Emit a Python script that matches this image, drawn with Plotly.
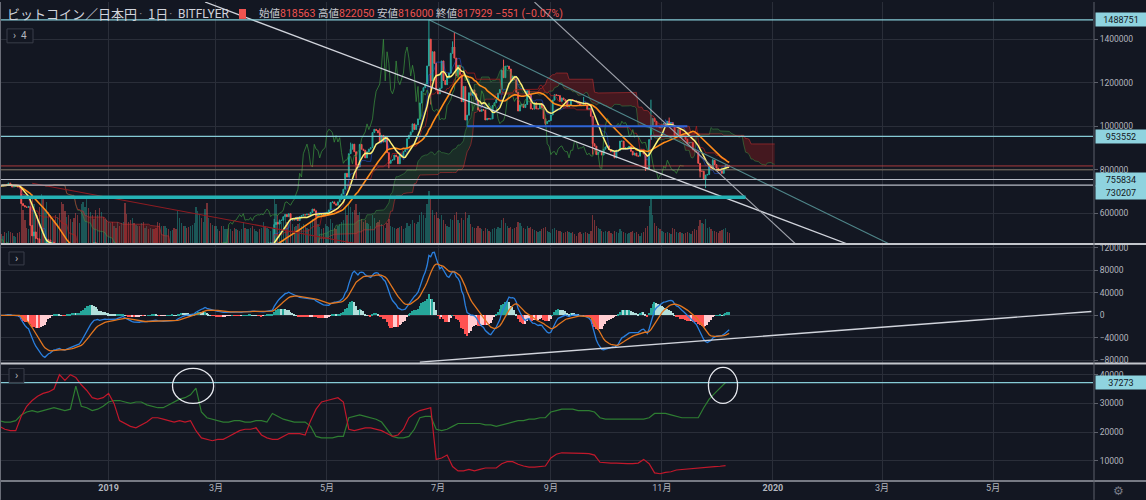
import numpy as np
import pandas as pd
import plotly.graph_objects as go

# ---------------- DATA ----------------
# bitFlyer BTC/JPY daily closes (thousand JPY), from 2018-11-02
start_date = "2018-11-02"
close_k = [
    727, 725, 732, 728, 733, 739, 728, 721, 724, 726, 722, 718, 645, 636, 630, 628, 632, 545, 497, 515, 485, 483, 440, 455, 428, 432, 480, 478, 452,
    468, 462, 435, 440, 420, 392, 382, 380, 397, 385, 380, 391, 372, 364, 362, 365, 402, 420, 430, 460, 446, 462, 460, 465, 433, 436, 408, 433, 423, 438, 418,
    423, 429, 418, 421, 418, 440, 437, 437, 440, 398, 397, 394, 380, 395, 388, 392, 394, 390, 400, 387, 389, 393, 390, 393, 393, 392, 389, 375, 372, 377, 376,
    378, 381, 376, 376, 378, 373, 371, 399, 400, 404, 398, 400, 399, 397, 400, 404, 409, 434, 436, 441, 437, 442, 458, 418, 423, 420, 423, 422,
    424, 425, 420, 410, 429, 431, 432, 431, 437, 436, 430, 433, 432, 432, 436, 448, 444, 445, 449, 452, 444, 445, 446, 446, 437, 440, 458, 457, 463, 464, 464,
    467, 549, 559, 551, 567, 569, 585, 595, 585, 599, 569, 572, 570, 581, 567, 585, 590, 594, 593, 597, 594, 605, 620, 612, 586, 593, 594, 594, 591, 602,
    605, 616, 650, 653, 644, 638, 653, 665, 689, 711, 784, 767, 874, 895, 918, 883, 823, 813, 917, 895, 890, 855, 883, 895, 902, 971, 986, 981, 970, 927, 958,
    928, 948, 879, 830, 844, 846, 868, 860, 828, 868, 859, 884, 893, 943, 959, 974, 1011, 985, 1006, 1034, 1107, 1161, 1177, 1194, 1277, 1400, 1208, 1342, 1289, 1166,
    1149, 1175, 1300, 1210, 1191, 1221, 1244, 1335, 1364, 1313, 1231, 1280, 1236, 1113, 1183, 1029, 1051, 1154, 1143, 1167, 1149, 1121, 1075, 1069, 1077, 1074, 1029, 1036, 1033, 1034, 1095,
    1108, 1123, 1152, 1169, 1257, 1223, 1276, 1276, 1263, 1209, 1229, 1214, 1156, 1070, 1097, 1101, 1086, 1100, 1163, 1146, 1080, 1079, 1108, 1080, 1080, 1104, 1084, 1035, 1012, 1022, 1026,
    1052, 1120, 1145, 1142, 1141, 1114, 1130, 1122, 1115, 1090, 1095, 1123, 1118, 1117, 1111, 1106, 1098, 1095, 1107, 1097, 1077, 1081, 1046, 920, 909, 870, 882, 884, 868, 895,
    905, 910, 893, 883, 884, 855, 890, 890, 932, 932, 896, 901, 901, 908, 885, 868, 877, 864, 863, 894, 894, 873, 810, 806, 939, 1004, 1036, 1023, 998, 998, 993,
    1006, 1013, 1001, 1023, 1013, 1017, 1001, 957, 960, 985, 949, 957, 954, 941, 922, 925, 926, 892, 886, 880, 830, 794, 794, 757, 776, 779, 817, 807, 844, 824,
    808, 797, 796, 784, 806, 821, 818.48, 817.929,
]
volume_units = [
    20, 18, 15, 22, 20, 25, 22, 20, 15, 14, 20, 22, 85, 65, 45, 30, 28, 85, 95, 75, 60, 55, 70, 95, 85, 65, 80, 60, 55,
    50, 45, 55, 52, 58, 80, 75, 62, 52, 55, 48, 42, 50, 58, 55, 40, 75, 80, 70, 85, 68, 60, 55, 48, 65, 55, 68, 60, 52, 48, 45,
    42, 39, 42, 35, 31, 42, 35, 39, 42, 77, 56, 42, 45, 49, 39, 36, 35, 34, 39, 42, 31, 34, 28, 31, 29, 28, 31, 42, 39, 35, 34,
    35, 31, 28, 25, 27, 31, 28, 63, 49, 39, 35, 34, 31, 32, 34, 36, 39, 70, 63, 56, 49, 42, 67, 77, 49, 39, 36, 35,
    34, 28, 25, 35, 34, 28, 29, 31, 28, 25, 31, 28, 27, 25, 28, 42, 31, 29, 28, 31, 34, 28, 25, 22, 28, 31, 42, 35, 31, 28, 25,
    30, 90, 75, 55, 48, 42, 45, 52, 42, 45, 52, 38, 32, 35, 38, 40, 35, 38, 32, 30, 28, 42, 48, 45, 52, 38, 32, 28, 30, 38,
    35, 32, 48, 40, 30, 28, 35, 38, 42, 45, 70, 55, 75, 70, 60, 65, 75, 55, 60, 48, 42, 45, 40, 38, 35, 55, 50, 40, 42, 45, 38,
    35, 30, 40, 48, 35, 32, 30, 28, 30, 32, 35, 28, 30, 40, 35, 38, 45, 40, 38, 42, 55, 60, 55, 50, 75, 100, 85, 65, 55, 60,
    50, 48, 55, 45, 38, 35, 32, 48, 45, 55, 60, 45, 40, 50, 45, 60, 50, 55, 38, 32, 30, 30, 35, 30, 28, 25, 30, 28, 25, 22, 28,
    30, 28, 32, 30, 45, 50, 40, 35, 30, 32, 28, 30, 32, 42, 40, 35, 30, 28, 35, 30, 32, 28, 26, 24, 22, 25, 28, 30, 32, 25, 22,
    20, 28, 30, 26, 24, 25, 22, 20, 22, 24, 22, 20, 22, 18, 16, 20, 22, 18, 20, 22, 20, 18, 24, 55, 45, 35, 30, 28, 25, 22,
    25, 22, 24, 20, 18, 25, 22, 20, 28, 25, 22, 20, 18, 20, 22, 25, 20, 22, 18, 16, 20, 22, 30, 35, 72, 88, 55, 40, 35, 30, 28,
    25, 22, 20, 22, 20, 18, 30, 28, 22, 20, 22, 20, 18, 20, 22, 20, 18, 25, 28, 26, 35, 45, 40, 38, 48, 30, 32, 28, 25, 24,
    22, 20, 24, 26, 28, 30, 22, 20,
]
last_ohlc = [818563, 822050, 816000, 817929]   # 始値, 高値, 安値, 終値

wick_high_dates = ["2019-04-02", "2019-05-14", "2019-05-30", "2019-06-26", "2019-07-09", "2019-07-10",
                   "2019-08-06", "2019-09-19", "2019-10-26", "2019-11-05", "2019-11-29"]
wick_high_k = [575, 925, 990, 1488.751, 1390, 1432, 1306, 1135, 1122, 1040, 850]
wick_low_dates = ["2019-05-17", "2019-06-04", "2019-06-27", "2019-07-17", "2019-08-29",
                  "2019-09-24", "2019-10-23", "2019-11-22", "2019-11-25"]
wick_low_k = [760, 807, 1100, 1000, 1005, 870, 795, 765, 716]

# lower panel: two position series, sampled every 3 days from 2018-11-02
pos_start = "2018-11-02"
red_series = [
    22000, 21000, 20500, 20500, 25500, 29000, 31000, 32500, 33500, 34000,
    35000, 40000, 38000, 40000, 39000, 36500, 34500, 32000, 31500, 32000,
    33500, 30000, 24000, 23000, 22000, 21500, 22500, 23500, 25000, 25000,
    24500, 24000, 23500, 24000, 23500, 24000, 20500, 18000, 17500, 17000,
    17500, 17500, 18500, 19500, 20500, 21000, 21000, 21500, 19000, 18000,
    17500, 17500, 18500, 19500, 19500, 19500, 19000, 24000, 28000, 30500,
    31000, 31500, 32000, 30500, 21000, 20500, 21000, 21500, 21500, 21000,
    20500, 19500, 18500, 19000, 21000, 25000, 26500, 27500, 28000, 28500,
    10500, 11000, 12000, 8000, 6500, 6500, 7000, 6500, 7000, 7500,
    7500, 7500, 9000, 9700, 9700, 8800, 8200, 7800, 7800, 8000,
    8200, 11000, 12300, 12800, 12800, 12800, 12800, 12600, 12500, 12000,
    9500, 9300, 9200, 9200, 9000, 9000, 9000, 9200, 10500, 9000,
    5800, 5500, 6000, 6200, 6800, 7000, 7200, 7300, 7500, 7800,
    8000, 8000, 8100, 8300,
]
green_series = [
    24000, 23500, 23500, 24000, 26000, 27000, 27500, 27000, 27500, 28000,
    28500, 28000, 27500, 28000, 36000, 29000, 28500, 27500, 28000, 29000,
    30500, 31000, 31000, 30500, 30000, 30500, 30500, 29500, 29000, 28500,
    28500, 29500, 30500, 31500, 32000, 33000, 35300, 27000, 25000, 24500,
    24000, 23500, 23500, 24000, 24000, 23500, 23500, 24000, 24000, 23500,
    26500, 25500, 24500, 24000, 23500, 23500, 23500, 22000, 18500, 18000,
    18000, 18000, 18500, 18500, 25000, 25500, 26000, 25500, 25000, 24500,
    23500, 21000, 18500, 18000, 18000, 18500, 21000, 25000, 25500, 25500,
    21000, 20500, 21000, 22000, 23000, 23000, 23000, 23000, 23000, 22500,
    22500, 22000, 22500, 23000, 23500, 24000, 24000, 24500, 24500, 25000,
    25000, 27000, 27500, 28000, 28000, 28000, 27500, 27500, 27500, 27000,
    25000, 24500, 24500, 24500, 24500, 24500, 24500, 24500, 24500, 25000,
    26500, 26500, 26500, 26000, 25500, 25000, 25000, 25000, 25000, 28500,
    31500, 33500, 35500, 37273,
]

# drawn horizontal levels
cyan_levels = [1488751, 953552]
grey_levels = [755834, 730207]
tan_level = 800000
thick_support = 674600
thick_support_end = "2019-12-17"
blue_level = 1000000
blue_span = ["2019-07-17", "2019-11-15"]
lower_level = 37273

# drawn trend lines (anchor dates / values)
tl_white_x, tl_white_y = ["2019-02-23", "2020-02-11"], [1570500, 459700]
tl_teal_x, tl_teal_y = ["2019-06-26", "2020-03-05"], [1488751, 459700]
tl_grey_x, tl_grey_y = ["2019-08-23", "2020-01-13 12:00"], [1570500, 459700]
tl_red_x, tl_red_y = ["2018-11-20", "2019-05-18"], [738500, 459700]
tl_macd_x, tl_macd_y = ["2019-06-21", "2020-06-24"], [-83000, 7000]

# circled spots on the lower panel
circle_centers_x = ["2019-02-16 10:00", "2019-12-04 14:00"]
circle_centers_y = [36100, 36274]

month_ticks = ["2019-01-01", "2019-03-01", "2019-05-01", "2019-07-01", "2019-09-01",
               "2019-11-01", "2020-01-01", "2020-03-01", "2020-05-01"]
month_labels = ["<b>2019</b>", "3月", "5月", "7月", "9月", "11月", "<b>2020</b>", "3月", "5月"]

# ---------------- DERIVED ----------------
dates = pd.date_range(start_date, periods=len(close_k), freq="D")
close = np.array(close_k, dtype=float) * 1000
open_ = np.r_[close[0], close[:-1]]
high = np.maximum(open_, close)
low = np.minimum(open_, close)
pos = {d: i for i, d in enumerate(dates)}
for d, v in zip(wick_high_dates, wick_high_k):
    i = pos[pd.Timestamp(d)]
    high[i] = max(high[i], v * 1000)
for d, v in zip(wick_low_dates, wick_low_k):
    i = pos[pd.Timestamp(d)]
    low[i] = min(low[i], v * 1000)
open_[-1], high[-1], low[-1], close[-1] = last_ohlc
change = int(round(close[-1] - close[-2]))
change_pct = change / close[-2] * 100

cs = pd.Series(close)
sma10 = cs.rolling(10, min_periods=1).mean().values
sma25 = cs.rolling(25, min_periods=1).mean().values
ema12 = cs.ewm(span=12, adjust=False).mean()
ema26 = cs.ewm(span=26, adjust=False).mean()
macd = (ema12 - ema26).values
signal = pd.Series(macd).ewm(span=9, adjust=False).mean().values
hist = macd - signal
prev = np.r_[hist[0], hist[:-1]]
hist_colors = np.where(hist >= 0,
                       np.where(hist >= prev, "#26a69a", "#b2dfdb"),
                       np.where(hist < prev, "#ff5252", "#ffcdd2"))

hs, lsr = pd.Series(high), pd.Series(low)


def donchian_mid(n):
    return ((hs.rolling(n, min_periods=1).max() + lsr.rolling(n, min_periods=1).min()) / 2).values


tenkan = donchian_mid(9)
kijun = donchian_mid(26)
spanA = (tenkan + kijun) / 2
spanB = donchian_mid(52)
lead_x = dates + pd.Timedelta(days=25)
lag_x = dates - pd.Timedelta(days=25)
cloud_top = np.maximum(spanA, spanB)

up = close >= open_
vol_colors = np.where(up, "rgba(38,166,154,0.45)", "rgba(239,83,80,0.45)")

pos_dates = pd.date_range(pos_start, periods=len(red_series), freq="3D")

# ---------------- LAYOUT CONSTANTS ----------------
W, H = 1146, 500
MR, MB = 53, 19
PW, PH = W - MR, H - MB
BG = "#131722"
GRID = "#2a2e39"
TXT = "#b2b5be"
FONT = "Roboto, 'Noto Sans', 'Noto Sans CJK JP', sans-serif"
PX_PER_DAY = 1.82
X0 = pd.Timestamp("2018-11-02 08:00")
X1 = X0 + pd.Timedelta(days=PW / PX_PER_DAY)


def fx(px):
    return px / PW


def fy(py):
    return 1 - py / PH


fig = go.Figure()

# volume (base axis under price)
fig.add_trace(go.Bar(x=dates, y=volume_units, marker=dict(color=vol_colors, line=dict(width=0)),
                     width=86400000 * 0.7, xaxis="x", yaxis="y", hoverinfo="skip"))

# ichimoku cloud
fig.add_trace(go.Scatter(x=lead_x, y=spanB, mode="lines", line=dict(width=0), yaxis="y2", hoverinfo="skip"))
fig.add_trace(go.Scatter(x=lead_x, y=cloud_top, mode="lines", line=dict(width=0), fill="tonexty",
                         fillcolor="rgba(67,160,71,0.16)", yaxis="y2", hoverinfo="skip"))
fig.add_trace(go.Scatter(x=lead_x, y=spanA, mode="lines", line=dict(width=0), yaxis="y2", hoverinfo="skip"))
fig.add_trace(go.Scatter(x=lead_x, y=cloud_top, mode="lines", line=dict(width=0), fill="tonexty",
                         fillcolor="rgba(183,28,28,0.30)", yaxis="y2", hoverinfo="skip"))
fig.add_trace(go.Scatter(x=lead_x, y=spanA, mode="lines", line=dict(width=1, color="rgba(67,160,71,0.45)"),
                         yaxis="y2", hoverinfo="skip"))
fig.add_trace(go.Scatter(x=lead_x, y=spanB, mode="lines", line=dict(width=1, color="rgba(200,50,50,0.55)"),
                         yaxis="y2", hoverinfo="skip"))

# candles
fig.add_trace(go.Candlestick(x=dates, open=open_, high=high, low=low, close=close, xaxis="x", yaxis="y2",
                             increasing=dict(line=dict(color="#26a69a", width=1), fillcolor="#26a69a"),
                             decreasing=dict(line=dict(color="#ef5350", width=1), fillcolor="#ef5350"),
                             whiskerwidth=0, hoverinfo="skip"))

# ichimoku lines
fig.add_trace(go.Scatter(x=dates, y=tenkan, mode="lines", line=dict(width=1, color="rgba(41,98,255,0.45)"),
                         yaxis="y2", hoverinfo="skip"))
fig.add_trace(go.Scatter(x=dates, y=kijun, mode="lines", line=dict(width=1, color="rgba(183,28,28,0.7)"),
                         yaxis="y2", hoverinfo="skip"))
fig.add_trace(go.Scatter(x=lag_x, y=close, mode="lines", line=dict(width=1, color="rgba(56,142,60,0.75)"),
                         yaxis="y2", hoverinfo="skip"))

# moving averages
fig.add_trace(go.Scatter(x=dates, y=sma25, mode="lines", line=dict(width=1.6, color="#ff8c1a"),
                         yaxis="y2", hoverinfo="skip"))
fig.add_trace(go.Scatter(x=dates, y=sma10, mode="lines", line=dict(width=1.5, color="#fff176"),
                         yaxis="y2", hoverinfo="skip"))

# trend lines
for tx, ty, col, wd in [(tl_white_x, tl_white_y, "#d1d4dc", 1.3),
                        (tl_teal_x, tl_teal_y, "#4f8589", 1.1),
                        (tl_grey_x, tl_grey_y, "#9ea1aa", 1.1),
                        (tl_red_x, tl_red_y, "#8e1c22", 1.2)]:
    fig.add_trace(go.Scatter(x=tx, y=ty, mode="lines", line=dict(width=wd, color=col), yaxis="y2", hoverinfo="skip"))

# MACD
fig.add_trace(go.Bar(x=dates, y=hist, marker=dict(color=hist_colors, line=dict(width=0)),
                     width=86400000 * 0.8, xaxis="x", yaxis="y3", hoverinfo="skip"))
fig.add_trace(go.Scatter(x=dates, y=macd, mode="lines", line=dict(width=1.3, color="#2a7fde"), yaxis="y3", hoverinfo="skip"))
fig.add_trace(go.Scatter(x=dates, y=signal, mode="lines", line=dict(width=1.3, color="#e2761f"), yaxis="y3", hoverinfo="skip"))
fig.add_trace(go.Scatter(x=tl_macd_x, y=tl_macd_y, mode="lines", line=dict(width=1.4, color="#d1d4dc"), yaxis="y3", hoverinfo="skip"))

# lower panel
fig.add_trace(go.Scatter(x=pos_dates, y=green_series, mode="lines", line=dict(width=1.2, color="#2e7d32"), yaxis="y4", hoverinfo="skip"))
fig.add_trace(go.Scatter(x=pos_dates, y=red_series, mode="lines", line=dict(width=1.2, color="#c2182b"), yaxis="y4", hoverinfo="skip"))

shapes = []


def hline(val, yref, color, width, x0=0, x1=1, xref="paper", dash="solid"):
    shapes.append(dict(type="line", xref=xref, yref=yref, x0=x0, x1=x1, y0=val, y1=val,
                       line=dict(color=color, width=width, dash=dash)))


for v in cyan_levels:
    hline(v, "y2", "#86cbd6", 1.2)
for v in grey_levels:
    hline(v, "y2", "#b8bcc6", 1.2)
hline(tan_level, "y2", "rgba(200,180,140,0.55)", 1)
hline(close[-1], "y2", "rgba(220,70,70,0.75)", 1)
hline(thick_support, "y2", "#25b3b6", 3.5, x0=X0, x1=thick_support_end, xref="x")
hline(blue_level, "y2", "#2f66d8", 2, x0=blue_span[0], x1=blue_span[1], xref="x")
hline(lower_level, "y4", "#86cbd6", 1.2)

# circles on lower panel (half sizes in days / value units)
for cx, cy, hw, hh in zip(circle_centers_x, circle_centers_y, [11.3, 8.0], [6100, 6250]):
    c = pd.Timestamp(cx)
    shapes.append(dict(type="circle", xref="x", yref="y4",
                       x0=c - pd.Timedelta(days=hw), x1=c + pd.Timedelta(days=hw),
                       y0=cy - hh, y1=cy + hh, line=dict(color="#e6e8ee", width=1.3)))

# separators & axis border
for py in [243, 363]:
    shapes.append(dict(type="line", xref="paper", yref="paper", x0=0, x1=W / PW, y0=fy(py), y1=fy(py),
                       line=dict(color="#c3c6cc", width=2)))
shapes.append(dict(type="line", xref="paper", yref="paper", x0=0, x1=W / PW, y0=0, y1=0,
                   line=dict(color="#9a9da6", width=1.5)))
shapes.append(dict(type="line", xref="paper", yref="paper", x0=fx(1094), x1=fx(1094), y0=-MB / PH, y1=1,
                   line=dict(color="#5d606b", width=1)))
shapes.append(dict(type="line", xref="paper", yref="paper", x0=fx(0.5), x1=fx(0.5), y0=-MB / PH, y1=1,
                   line=dict(color="#6a6d78", width=1)))

# panel toggle boxes and flag
for (bx0, by0, bx1, by1) in [(7, 27, 33, 41), (9, 251, 24, 264), (9, 368, 24, 382)]:
    shapes.append(dict(type="rect", xref="paper", yref="paper", x0=fx(bx0), x1=fx(bx1), y0=fy(by1), y1=fy(by0),
                       line=dict(color="#3a3e4a", width=1), fillcolor=BG))
shapes.append(dict(type="rect", xref="paper", yref="paper", x0=fx(239), x1=fx(246), y0=fy(17), y1=fy(7),
                   line=dict(width=0), fillcolor="#ef5350"))

annotations = []


def note(px, py, text, size, color, anchor="left", family=FONT):
    annotations.append(dict(xref="paper", yref="paper", x=fx(px), y=fy(py), text=text, showarrow=False,
                            xanchor=anchor, yanchor="middle", font=dict(size=size, color=color, family=family)))


note(5, 12, "ビットコイン／日本円", 13, "#d1d4dc", family="'Noto Sans CJK JP', sans-serif")
note(137, 12, "·", 13, "#787b86")
note(146, 12, "1日", 13, "#d1d4dc", family="'Noto Sans CJK JP', sans-serif")
note(167, 12, "·", 13, "#787b86")
note(176, 12, "BITFLYER", 12, "#d1d4dc")
RED = "#ef5350"
ohlc_txt = ("始値<span style='color:%s'>%d</span> 高値<span style='color:%s'>%d</span> "
            "安値<span style='color:%s'>%d</span> 終値<span style='color:%s'>%d</span> "
            "<span style='color:%s'>%s (%s%%)</span>") % (
    RED, last_ohlc[0], RED, last_ohlc[1], RED, last_ohlc[2], RED, last_ohlc[3], RED,
    ("−%d" % abs(change)) if change < 0 else "+%d" % change,
    ("−%.2f" % abs(change_pct)) if change_pct < 0 else "+%.2f" % change_pct)
note(257, 12, ohlc_txt, 10.5, "#c8cbd2", family="Roboto, 'Noto Sans CJK JP', sans-serif")
note(20, 34, "›  4", 10, TXT, anchor="center")
note(16.5, 257.5, "›", 11, TXT, anchor="center")
note(16.5, 375, "›", 11, TXT, anchor="center")
annotations.append(dict(xref="paper", yref="paper", x=fx(1118), y=fy(491), text="⚙", showarrow=False,
                        xanchor="center", yanchor="middle", font=dict(size=12, color="#787b86", family="DejaVu Sans")))


def axis_label(val, yref, shift=0):
    annotations.append(dict(xref="paper", x=1, xanchor="left", xshift=2, yref=yref, y=val, yshift=shift,
                            yanchor="middle", text=str(int(val)), showarrow=False,
                            font=dict(size=9, color="#131722", family=FONT),
                            bgcolor="#8fd3df", borderpad=1.5, width=47, align="center"))


axis_label(cyan_levels[0], "y2")
axis_label(cyan_levels[1], "y2")
axis_label(grey_levels[0], "y2")
axis_label(grey_levels[1], "y2", shift=-7)
axis_label(lower_level, "y4")

yaxis_common = dict(side="right", anchor="x", showgrid=True, gridcolor=GRID, gridwidth=1, zeroline=False,
                    ticks="outside", ticklen=4, tickcolor="#5d606b", tickformat="d",
                    tickfont=dict(size=8.5, color=TXT, family=FONT), fixedrange=True, showline=False)

fig.update_layout(
    width=W, height=H, margin=dict(l=0, r=MR, t=0, b=MB),
    paper_bgcolor=BG, plot_bgcolor=BG, showlegend=False, hovermode=False, bargap=0,
    xaxis=dict(type="date", range=[X0, X1], anchor="y4", tickvals=month_ticks, ticktext=month_labels,
               showgrid=True, gridcolor=GRID, zeroline=False, showline=False, ticks="",
               tickfont=dict(size=9, color=TXT, family=FONT), rangeslider=dict(visible=False), fixedrange=True),
    yaxis=dict(domain=[fy(243), 1], range=[0, 458], visible=False, fixedrange=True),
    yaxis2=dict(overlaying="y", range=[459700, 1570500],
                tickvals=[600000, 800000, 1000000, 1200000, 1400000], **yaxis_common),
    yaxis3=dict(domain=[fy(363), fy(244)], range=[-85443, 125068],
                tickvals=[-80000, -40000, 0, 40000, 80000, 120000], **yaxis_common),
    yaxis4=dict(domain=[0, fy(364)], range=[2972, 43559],
                tickvals=[10000, 20000, 30000, 40000], **yaxis_common),
    shapes=shapes, annotations=annotations,
)

fig.write_html("out.html")
